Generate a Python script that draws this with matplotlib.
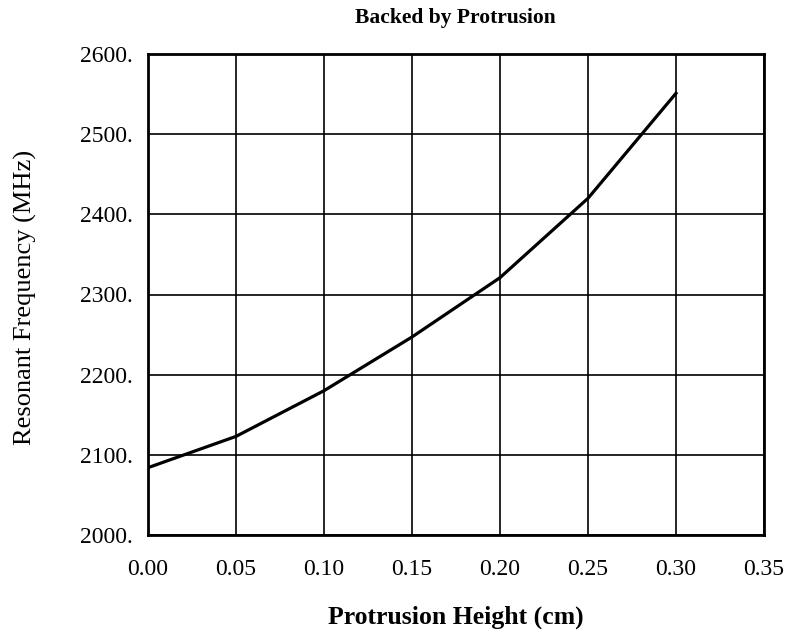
import matplotlib
matplotlib.use("Agg")
import matplotlib.pyplot as plt
from matplotlib.ticker import FuncFormatter

plt.rcParams['font.family'] = ['Liberation Serif', 'DejaVu Serif']

height_cm = [0.00, 0.05, 0.10, 0.15, 0.20, 0.25, 0.30]
freq_mhz = [2084, 2123, 2180, 2247, 2321, 2420, 2551]
x_ticks = [0.00, 0.05, 0.10, 0.15, 0.20, 0.25, 0.30, 0.35]
y_ticks = [2000, 2100, 2200, 2300, 2400, 2500, 2600]

W, H = 795, 636
L, R, T, B = 148, 764, 54, 535

fig = plt.figure(figsize=(W/100, H/100), dpi=100)
ax = fig.add_axes([L/W, 1-B/H, (R-L)/W, (B-T)/H])

ax.plot(height_cm, freq_mhz, color='black', lw=2.3, solid_joinstyle='round')

ax.set_xlim(0, 0.35)
ax.set_ylim(2000, 2600)
ax.set_xticks(x_ticks)
ax.set_yticks(y_ticks)
ax.xaxis.set_major_formatter(FuncFormatter(lambda v, p: f"{v:.2f}"))
ax.yaxis.set_major_formatter(FuncFormatter(lambda v, p: f"{int(round(v))}."))
ax.tick_params(length=0, labelsize=17)
ax.tick_params(axis='y', pad=11)
ax.tick_params(axis='x', pad=17)
ax.grid(True, color='black', lw=1.2)
for s in ax.spines.values():
    s.set_linewidth(2)

xl = ax.set_xlabel('Protrusion Height (cm)', fontsize=18.5, fontweight='bold')
xl.set_va('center')
ax.xaxis.set_label_coords(0.5, (B-617)/(B-T))
yl = ax.set_ylabel('Resonant Frequency (MHz)', fontsize=19)
yl.set_va('center')
ax.yaxis.set_label_coords((25-L)/(R-L), (B-297)/(B-T))
fig.text(455/W, 1-18/H, 'Backed by Protrusion', ha='center', va='center',
         fontsize=15.5, fontweight='bold')

fig.savefig('out.png', dpi=100)
